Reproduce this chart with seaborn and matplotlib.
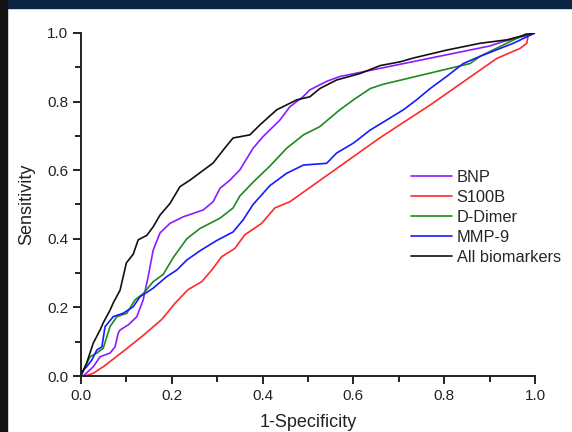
import numpy as np
import pandas as pd
import seaborn as sns
import matplotlib.pyplot as plt
from matplotlib.patches import Rectangle
from matplotlib.ticker import MultipleLocator

# ROC curves (1-specificity, sensitivity)
bnp_x = [0, 0.005, 0.027, 0.042, 0.064, 0.075, 0.082, 0.086, 0.105, 0.123, 0.137, 0.148, 0.159, 0.174,
         0.196, 0.225, 0.269, 0.291, 0.306, 0.328, 0.350, 0.379, 0.401, 0.438, 0.460, 0.489, 0.504,
         0.541, 0.570, 0.900, 0.930, 0.960, 1.0]
bnp_y = [0, 0, 0.027, 0.056, 0.067, 0.085, 0.125, 0.134, 0.150, 0.173, 0.222, 0.290, 0.367, 0.417,
         0.445, 0.464, 0.484, 0.508, 0.547, 0.571, 0.601, 0.664, 0.698, 0.746, 0.785, 0.814, 0.834,
         0.859, 0.873, 0.962, 0.975, 0.985, 1.0]

s100b_x = [0, 0.009, 0.027, 0.049, 0.060, 0.097, 0.134, 0.178, 0.207, 0.236, 0.266, 0.288, 0.310,
           0.339, 0.361, 0.398, 0.427, 0.460, 0.659, 0.769, 0.916, 0.967, 0.982, 0.985, 1.0]
s100b_y = [0, 0, 0.008, 0.027, 0.038, 0.076, 0.115, 0.165, 0.212, 0.252, 0.275, 0.309, 0.348,
           0.372, 0.412, 0.445, 0.490, 0.508, 0.695, 0.790, 0.926, 0.955, 0.970, 0.994, 1.0]

ddimer_x = [0, 0.002, 0.009, 0.020, 0.035, 0.049, 0.057, 0.064, 0.079, 0.101, 0.119, 0.137, 0.159,
            0.181, 0.203, 0.233, 0.262, 0.306, 0.335, 0.350, 0.379, 0.416, 0.453, 0.490, 0.526,
            0.570, 0.600, 0.637, 0.664, 0.857, 0.879, 0.930, 0.982, 1.0]
ddimer_y = [0, 0.008, 0.027, 0.056, 0.067, 0.081, 0.115, 0.144, 0.173, 0.183, 0.222, 0.240, 0.275,
            0.296, 0.345, 0.400, 0.430, 0.460, 0.490, 0.525, 0.565, 0.612, 0.664, 0.703, 0.727,
            0.776, 0.805, 0.838, 0.850, 0.911, 0.932, 0.965, 0.999, 1.0]

mmp9_x = [0, 0.0125, 0.024, 0.035, 0.046, 0.053, 0.071, 0.093, 0.115, 0.130, 0.159, 0.189, 0.211,
          0.233, 0.262, 0.299, 0.335, 0.357, 0.379, 0.416, 0.453, 0.490, 0.541, 0.563, 0.600,
          0.637, 0.673, 0.710, 0.739, 0.769, 0.805, 0.842, 0.879, 0.952, 1.0]
mmp9_y = [0.01, 0.027, 0.047, 0.076, 0.085, 0.144, 0.173, 0.183, 0.202, 0.231, 0.256, 0.290, 0.309,
          0.338, 0.365, 0.395, 0.420, 0.455, 0.500, 0.555, 0.591, 0.615, 0.620, 0.650, 0.679,
          0.717, 0.746, 0.776, 0.805, 0.838, 0.873, 0.911, 0.932, 0.970, 1.0]

all_x = [0, 0.0125, 0.027, 0.042, 0.049, 0.064, 0.071, 0.086, 0.100, 0.115, 0.126, 0.145, 0.159,
         0.174, 0.196, 0.218, 0.240, 0.291, 0.317, 0.335, 0.372, 0.394, 0.431, 0.475, 0.504,
         0.526, 0.563, 0.615, 0.659, 0.703, 0.732, 0.805, 0.879, 0.938, 0.993, 1.0]
all_y = [0, 0.038, 0.096, 0.134, 0.155, 0.192, 0.213, 0.250, 0.330, 0.355, 0.397, 0.410, 0.435,
         0.469, 0.503, 0.552, 0.571, 0.621, 0.665, 0.694, 0.703, 0.732, 0.776, 0.805, 0.814,
         0.838, 0.863, 0.882, 0.905, 0.916, 0.927, 0.950, 0.970, 0.980, 0.999, 1.0]

names = ['BNP', 'S100B', 'D-Dimer', 'MMP-9', 'All biomarkers']
colors = ['#8a1cff', '#ff2a2a', '#1f8a1f', '#1a1aff', '#111111']
curves = [(bnp_x, bnp_y), (s100b_x, s100b_y), (ddimer_x, ddimer_y), (mmp9_x, mmp9_y), (all_x, all_y)]

frames = []
for name, (cx, cy) in zip(names, curves):
    frames.append(pd.DataFrame({'fpr': cx, 'tpr': cy, 'marker': name}))
roc = pd.concat(frames, ignore_index=True)

sns.set_style('ticks')
plt.rcParams['font.family'] = ['Liberation Sans', 'DejaVu Sans']

fig = plt.figure(figsize=(5.72, 4.32), dpi=100)
ax = fig.add_axes([81 / 572, 1 - 376 / 432, 454 / 572, 343 / 432])

sns.lineplot(data=roc, x='fpr', y='tpr', hue='marker', hue_order=names,
             palette=dict(zip(names, colors)), estimator=None, sort=False,
             linewidth=1.2, ax=ax)

ax.set_xlim(0, 1)
ax.set_ylim(0, 1)
ax.xaxis.set_major_locator(MultipleLocator(0.2))
ax.yaxis.set_major_locator(MultipleLocator(0.2))
ax.xaxis.set_minor_locator(MultipleLocator(0.1))
ax.yaxis.set_minor_locator(MultipleLocator(0.1))
ax.xaxis.set_major_formatter(plt.FormatStrFormatter('%.1f'))
ax.yaxis.set_major_formatter(plt.FormatStrFormatter('%.1f'))
ax.tick_params(which='major', length=6, width=1.4, labelsize=11, pad=3,
               color='#222222', labelcolor='#222222')
ax.tick_params(which='minor', length=4, width=1.4, color='#222222')
for side in ['top', 'right']:
    ax.spines[side].set_visible(False)
for side in ['left', 'bottom']:
    ax.spines[side].set_linewidth(1.4)
    ax.spines[side].set_color('#222222')

ax.set_xlabel('1-Specificity', fontsize=13, color='#222222')
ax.set_ylabel('Sensitivity', fontsize=13, color='#222222')
ax.xaxis.set_label_coords(0.5, -0.112)
ax.yaxis.set_label_coords(-0.10, 0.5)

ax.legend(loc='upper left', bbox_to_anchor=(0.712, 0.62), frameon=False, fontsize=11.8,
          handlelength=2.5, handletextpad=0.3, labelspacing=0.3, borderaxespad=0)

# dark frame strips along the top and left edges of the picture
fig.patches.append(Rectangle((0, 1 - 8 / 432), 1, 8 / 432, transform=fig.transFigure,
                             color='#0c2444', zorder=5))
fig.patches.append(Rectangle((0, 0), 7 / 572, 1, transform=fig.transFigure,
                             color='#141414', zorder=6))

fig.savefig('out.png', dpi=100)
